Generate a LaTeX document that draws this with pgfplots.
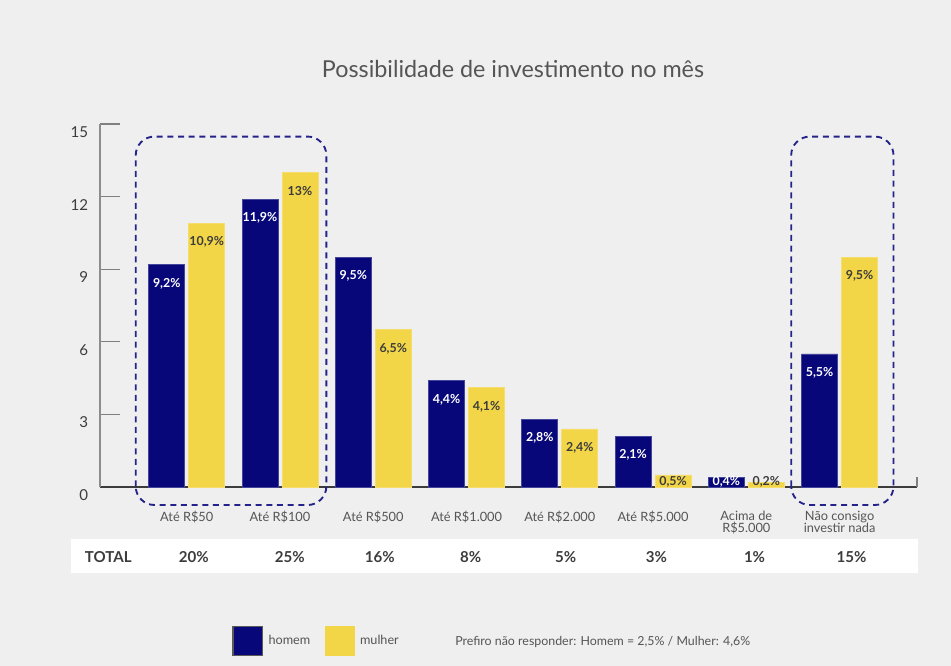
\documentclass[border=0pt]{standalone}
\usepackage{fontspec}
\setmainfont{Lato}
\usepackage{pgfplots}
\pgfplotsset{compat=1.18}
\definecolor{bgc}{HTML}{EFEFEF}
\definecolor{homem}{HTML}{07077A}
\definecolor{mulher}{HTML}{F3D648}
\definecolor{txt}{HTML}{555555}
\definecolor{dark}{HTML}{3C3C3C}
\definecolor{dashc}{HTML}{23238A}

\begin{document}
\begin{tikzpicture}
% page background and the white TOTAL band
\fill[bgc] (0,0) rectangle (713.25pt,499.5pt);
\fill[white] (53.25pt,69.75pt) rectangle (688.5pt,95.25pt);
\node[text=txt, font=\fontsize{17.5}{20}\selectfont] at (384.75pt,447.75pt) {Possibilidade de investimento no mês};
\node[text=txt, font=\fontsize{9.3}{11}\selectfont, anchor=west, inner sep=0pt] at (341.25pt,18.2pt)
  {Prefiro não responder: Homem = 2,5\% / Mulher: 4,6\%};

\begin{axis}[
  at={(75pt,134.25pt)}, anchor=south west,
  scale only axis, width=612.75pt, height=272.25pt,
  ybar=3pt, bar width=27pt,
  xmin=-0.93, xmax=7.83, ymin=0, ymax=15,
  axis x line=bottom, axis y line=left,
  axis line style={-},
  x axis line style={draw=dark, line width=1pt},
  y axis line style={draw=gray!90, line width=1pt},
  xtick={0,...,7},
  xticklabels={Até R\$50, Até R\$100, Até R\$500, Até R\$1.000, Até R\$2.000, Até R\$5.000,
    {Acima de\\R\$5.000}, {Não consigo\\investir nada}},
  xtick style={draw=none},
  xticklabel style={font=\fontsize{9.6}{9.3}\selectfont, text=txt, align=center, yshift=-14.5pt},
  ytick={0,3,...,15},
  tick align=inside,
  major tick length=15pt,
  ytick style={draw=gray, line width=0.8pt},
  yticklabel style={font=\fontsize{11.3}{13}\selectfont, text=dark, xshift=-5.3pt, yshift=-6pt},
  /pgf/number format/assume math mode=true,
  clip=false,
  visualization depends on={y \as \rawy},
  nodes near coords={\pgfmathprintnumber[fixed,precision=1,use comma]{\pgfplotspointmeta}\%},
  every node near coord/.append style={anchor=center, inner sep=0pt,
    font=\bfseries\fontsize{9.3}{10}\selectfont,
    yshift={max(-14.25,4.1-18.15*\rawy)*1pt}},
  legend style={at={(0.1616,-0.4242)}, anchor=west, draw=none, fill=none,
    legend columns=-1, font=\fontsize{9.5}{11}\selectfont, text=txt, inner sep=0pt,
    /tikz/every odd column/.append style={column sep=2pt},
    /tikz/every even column/.append style={column sep=8.75pt}},
]
\addplot[fill=homem, draw=homem!75!white, line width=0.5pt,
  every node near coord/.append style={text=white},
  legend image code/.code={\draw[fill=homem, draw=gray!70!black, line width=1.2pt] (0pt,-11pt) rectangle (22pt,11pt);}]
  coordinates {(0,9.2) (1,11.9) (2,9.5) (3,4.4) (4,2.8) (5,2.1) (6,0.4) (7,5.5)};
\addplot[fill=mulher, draw=mulher!80!white, line width=0.5pt,
  every node near coord/.append style={text=dark},
  legend image code/.code={\fill[mulher] (0pt,-11pt) rectangle (22pt,11pt);}]
  coordinates {(0,10.9) (1,13) (2,6.5) (3,4.1) (4,2.4) (5,0.5) (6,0.2) (7,9.5)};
\legend{homem, mulher}

% dashed highlight boxes
\draw[dashc, line width=1.4pt, dash pattern=on 4.5pt off 3.5pt, rounded corners=14pt]
  (axis cs:-0.547,-0.744) rectangle (axis cs:1.497,14.48);
\draw[dashc, line width=1.4pt, dash pattern=on 4.5pt off 3.5pt, rounded corners=14pt]
  (axis cs:6.481,-0.744) rectangle (axis cs:7.578,14.48);
\draw[gray, line width=0.8pt] (axis cs:7.83,0) -- ++(0pt,7.5pt);

% TOTAL row
\begin{scope}[every node/.style={text=dark, font=\bfseries\fontsize{11.3}{12}\selectfont}]
\node at (axis cs:-0.841,-2.893) {TOTAL};
\node at (axis cs:0.075,-2.893) {20\%};
\node at (axis cs:1.104,-2.893) {25\%};
\node at (axis cs:2.069,-2.893) {16\%};
\node at (axis cs:3.044,-2.893) {8\%};
\node at (axis cs:4.062,-2.893) {5\%};
\node at (axis cs:5.037,-2.893) {3\%};
\node at (axis cs:6.088,-2.893) {1\%};
\node at (axis cs:7.127,-2.893) {15\%};
\end{scope}
\end{axis}
\end{tikzpicture}
\end{document}
